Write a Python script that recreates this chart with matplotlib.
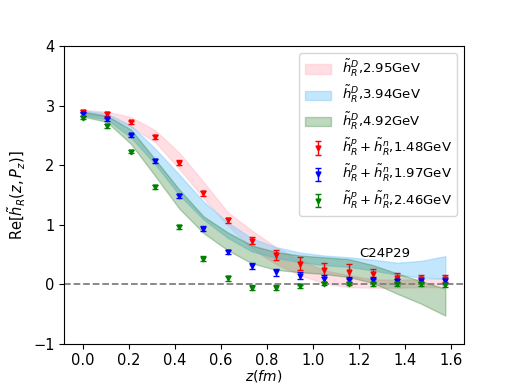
#!/usr/bin/env python3
"""Re[h_R(z,Pz)] vs z: data points and reconstructed bands, C24P29."""

import matplotlib
matplotlib.use('Agg')
import matplotlib.pyplot as plt

# z positions (fm)
z = [0.0, 0.105, 0.21, 0.315, 0.42, 0.525, 0.63, 0.735,
     0.84, 0.945, 1.05, 1.155, 1.26, 1.365, 1.47, 1.575]

# bands (lower / upper edge)
pink_lo = [2.86, 2.82, 2.65, 2.39, 1.94, 1.45, 0.99, 0.60,
           0.34, 0.15, 0.01, -0.05, -0.06, -0.06, -0.05, -0.05]
pink_hi = [2.93, 2.90, 2.81, 2.59, 2.21, 1.72, 1.21, 0.90,
           0.62, 0.40, 0.23, 0.15, 0.08, 0.07, 0.08, 0.10]
blue_lo = [2.84, 2.77, 2.47, 2.02, 1.50, 1.09, 0.78, 0.55,
           0.44, 0.37, 0.32, 0.29, 0.23, 0.16, 0.11, 0.09]
blue_hi = [2.92, 2.87, 2.67, 2.28, 1.84, 1.39, 1.04, 0.77,
           0.62, 0.53, 0.48, 0.45, 0.41, 0.36, 0.39, 0.47]
green_lo = [2.82, 2.73, 2.36, 1.82, 1.27, 0.86, 0.57, 0.35,
            0.24, 0.20, 0.17, 0.12, 0.02, -0.16, -0.33, -0.53]
green_hi = [2.90, 2.83, 2.60, 2.10, 1.59, 1.14, 0.87, 0.65,
            0.54, 0.48, 0.45, 0.42, 0.32, 0.18, 0.05, -0.08]

# data points
red_y = [2.90, 2.86, 2.72, 2.47, 2.04, 1.53, 1.07, 0.73,
         0.49, 0.34, 0.24, 0.21, 0.17, 0.11, 0.09, 0.09]
red_e = [0.03, 0.03, 0.03, 0.03, 0.04, 0.04, 0.05, 0.06,
         0.09, 0.11, 0.12, 0.12, 0.09, 0.07, 0.06, 0.06]
blue_y = [2.86, 2.77, 2.50, 2.07, 1.48, 0.93, 0.54, 0.30,
          0.20, 0.14, 0.09, 0.07, 0.07, 0.05, 0.06, 0.06]
blue_e = [0.03, 0.03, 0.03, 0.03, 0.04, 0.04, 0.04, 0.05,
          0.06, 0.06, 0.06, 0.05, 0.05, 0.04, 0.04, 0.04]
green_y = [2.80, 2.66, 2.23, 1.63, 0.96, 0.43, 0.10, -0.06,
           -0.06, -0.04, 0.01, 0.01, 0.0, 0.0, 0.0, -0.02]
green_e = [0.03, 0.03, 0.03, 0.03, 0.03, 0.04, 0.04, 0.04,
           0.04, 0.03, 0.03, 0.03, 0.03, 0.03, 0.03, 0.03]

xticks = [0.0, 0.2, 0.4, 0.6, 0.8, 1.0, 1.2, 1.4, 1.6]

fig, ax = plt.subplots(figsize=(5.15, 3.86), dpi=100)

ax.fill_between(z, pink_lo, pink_hi, color='pink', alpha=0.5,
                label=r'$\tilde{h}^D_R$,2.95GeV')
ax.fill_between(z, blue_lo, blue_hi, color='lightskyblue', alpha=0.5,
                label=r'$\tilde{h}^D_R$,3.94GeV')
ax.fill_between(z, green_lo, green_hi, color='darkgreen', alpha=0.25,
                label=r'$\tilde{h}^D_R$,4.92GeV')

kw = dict(fmt='v', markersize=3.5, capsize=2.5, elinewidth=1, linestyle='none')
ax.errorbar(z, red_y, yerr=red_e, color='red',
            label=r'$\tilde{h}^p_R+\tilde{h}^n_R$,1.48GeV', **kw)
ax.errorbar(z, blue_y, yerr=blue_e, color='blue',
            label=r'$\tilde{h}^p_R+\tilde{h}^n_R$,1.97GeV', **kw)
ax.errorbar(z, green_y, yerr=green_e, color='green',
            label=r'$\tilde{h}^p_R+\tilde{h}^n_R$,2.46GeV', **kw)

ax.axhline(0, color='gray', linestyle='--', linewidth=1.3)
ax.text(1.31, 0.52, 'C24P29', ha='center', va='center', fontsize=9.5)

ax.set_ylim(-1, 4)
ax.set_xticks(xticks)
ax.tick_params(labelsize=10.5)
ax.set_xlabel(r'$z(fm)$', fontsize=10, labelpad=0)
ax.set_ylabel(r'Re[$\tilde{h}_R(z,P_z)$]', fontsize=10.5)
ax.legend(loc='upper right', fontsize=9.5, labelspacing=0.4)

plt.savefig('out.png', dpi=100)
plt.close()
